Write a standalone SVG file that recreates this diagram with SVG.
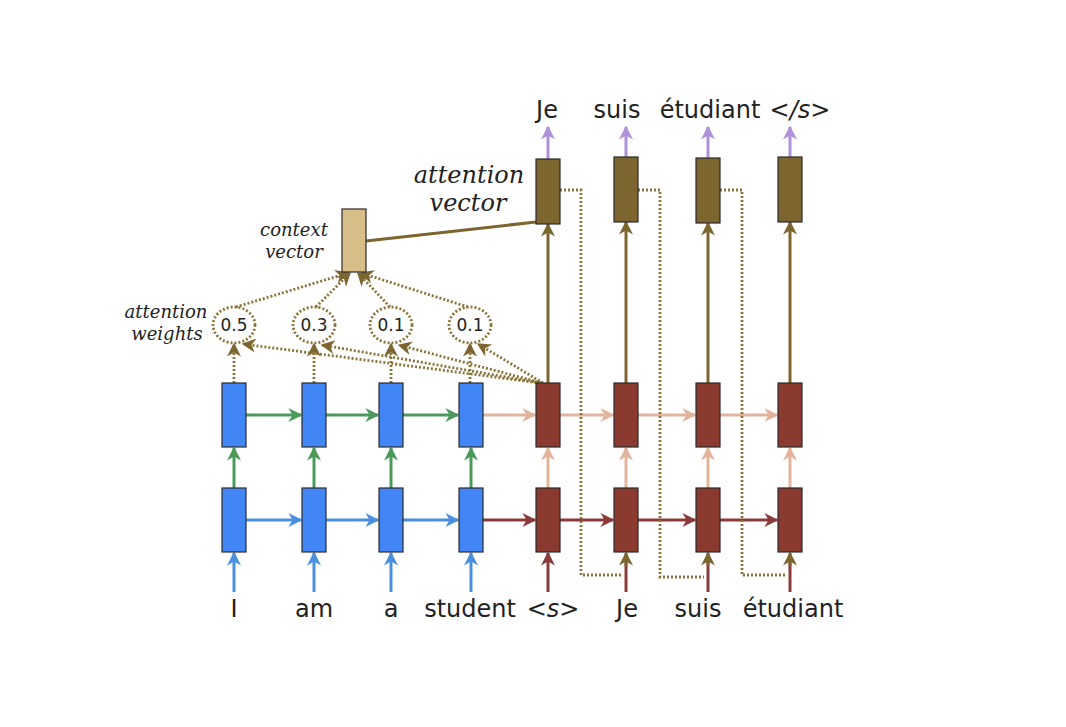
<svg xmlns="http://www.w3.org/2000/svg" width="1066" height="727" viewBox="0 0 1066 727">
<style>
.lbl{font-family:"DejaVu Sans",sans-serif;font-size:24px;fill:#222;text-anchor:middle}
.it{font-family:"DejaVu Serif",serif;font-style:italic;fill:#222;text-anchor:middle}
.num{font-family:"DejaVu Sans",sans-serif;font-size:17px;fill:#222;text-anchor:middle}
.enc{fill:#4285F4;stroke:#2a2a2a;stroke-width:1.2}
.dec{fill:#8B3A30;stroke:#2a2a2a;stroke-width:1.2}
.att{fill:#7D6530;stroke:#2a2a2a;stroke-width:1.2}
.ctx{fill:#D8BE88;stroke:#2a2a2a;stroke-width:1.2}
.a{fill:none;stroke-width:3}
.g{stroke:#4C9A5A;marker-end:url(#mg)}
.b{stroke:#4A8FE0;marker-end:url(#mb)}
.r{stroke:#8B3A3A;marker-end:url(#mr)}
.p{stroke:#E2B49C;marker-end:url(#mp)}
.o{stroke:#7D6530;marker-end:url(#mo)}
.v{stroke:#B08FDB;marker-end:url(#mv)}
.d{fill:none;stroke:#8A7538;stroke-width:2.8;stroke-dasharray:2 2}
.da{marker-end:url(#mo)}
</style>
<defs>
<marker id="mg" viewBox="0 0 10 10" refX="9" refY="5" markerWidth="14" markerHeight="14" markerUnits="userSpaceOnUse" orient="auto"><path d="M0,0 L10,5 L0,10 L3,5 z" fill="#4C9A5A"/></marker>
<marker id="mb" viewBox="0 0 10 10" refX="9" refY="5" markerWidth="14" markerHeight="14" markerUnits="userSpaceOnUse" orient="auto"><path d="M0,0 L10,5 L0,10 L3,5 z" fill="#4A8FE0"/></marker>
<marker id="mr" viewBox="0 0 10 10" refX="9" refY="5" markerWidth="14" markerHeight="14" markerUnits="userSpaceOnUse" orient="auto"><path d="M0,0 L10,5 L0,10 L3,5 z" fill="#8B3A3A"/></marker>
<marker id="mp" viewBox="0 0 10 10" refX="9" refY="5" markerWidth="14" markerHeight="14" markerUnits="userSpaceOnUse" orient="auto"><path d="M0,0 L10,5 L0,10 L3,5 z" fill="#E2B49C"/></marker>
<marker id="mo" viewBox="0 0 10 10" refX="9" refY="5" markerWidth="14" markerHeight="14" markerUnits="userSpaceOnUse" orient="auto"><path d="M0,0 L10,5 L0,10 L3,5 z" fill="#7D6530"/></marker>
<marker id="mv" viewBox="0 0 10 10" refX="9" refY="5" markerWidth="14" markerHeight="14" markerUnits="userSpaceOnUse" orient="auto"><path d="M0,0 L10,5 L0,10 L3,5 z" fill="#B08FDB"/></marker>
</defs>
<rect width="1066" height="727" fill="#fff"/>

<g id="connectors">
<line class="a b" x1="234" y1="592" x2="234" y2="553"/>
<line class="a b" x1="314" y1="592" x2="314" y2="553"/>
<line class="a b" x1="391" y1="592" x2="391" y2="553"/>
<line class="a b" x1="471" y1="592" x2="471" y2="553"/>
<line class="a r" x1="548" y1="592" x2="548" y2="553"/>
<line class="a" stroke="#8B3A3A" x1="626" y1="592" x2="626" y2="560"/>
<line class="a" stroke="#8B3A3A" x1="708" y1="592" x2="708" y2="560"/>
<line class="a" stroke="#8B3A3A" x1="790" y1="592" x2="790" y2="560"/>
<line class="a o" x1="626" y1="566" x2="626" y2="553"/>
<line class="a o" x1="708" y1="566" x2="708" y2="553"/>
<line class="a o" x1="790" y1="566" x2="790" y2="553"/>
<line class="a b" x1="246" y1="520" x2="301" y2="520"/>
<line class="a b" x1="326" y1="520" x2="378" y2="520"/>
<line class="a b" x1="403" y1="520" x2="458" y2="520"/>
<line class="a r" x1="483" y1="520" x2="535" y2="520"/>
<line class="a r" x1="560" y1="520" x2="613" y2="520"/>
<line class="a r" x1="638" y1="520" x2="695" y2="520"/>
<line class="a r" x1="720" y1="520" x2="777" y2="520"/>
<line class="a g" x1="234" y1="488" x2="234" y2="448"/>
<line class="a g" x1="314" y1="488" x2="314" y2="448"/>
<line class="a g" x1="391" y1="488" x2="391" y2="448"/>
<line class="a g" x1="471" y1="488" x2="471" y2="448"/>
<line class="a p" x1="548" y1="488" x2="548" y2="448"/>
<line class="a p" x1="626" y1="488" x2="626" y2="448"/>
<line class="a p" x1="708" y1="488" x2="708" y2="448"/>
<line class="a p" x1="790" y1="488" x2="790" y2="448"/>
<line class="a g" x1="246" y1="415" x2="301" y2="415"/>
<line class="a g" x1="326" y1="415" x2="378" y2="415"/>
<line class="a g" x1="403" y1="415" x2="458" y2="415"/>
<line class="a p" x1="483" y1="415" x2="535" y2="415"/>
<line class="a p" x1="560" y1="415" x2="613" y2="415"/>
<line class="a p" x1="638" y1="415" x2="695" y2="415"/>
<line class="a p" x1="720" y1="415" x2="777" y2="415"/>
<line class="a o" x1="548" y1="383" x2="548" y2="224"/>
<line class="a o" x1="626" y1="383" x2="626" y2="222"/>
<line class="a o" x1="708" y1="383" x2="708" y2="223"/>
<line class="a o" x1="790" y1="383" x2="790" y2="222"/>
<line class="a v" x1="548" y1="159" x2="548" y2="127"/>
<line class="a v" x1="626" y1="157" x2="626" y2="127"/>
<line class="a v" x1="708" y1="159" x2="708" y2="127"/>
<line class="a v" x1="790" y1="157" x2="790" y2="127"/>
<line class="a" stroke="#7D6530" x1="366" y1="241" x2="536" y2="222"/>
<polyline class="d" points="560,190 581,190 581,575 622,575"/>
<polyline class="d" points="638,190 660,190 660,577 704,577"/>
<polyline class="d" points="720,190 742,190 742,575 786,575"/>
<line class="d da" x1="234" y1="383" x2="234" y2="344"/>
<line class="d da" x1="314" y1="383" x2="314" y2="344"/>
<line class="d da" x1="391" y1="383" x2="391" y2="344"/>
<line class="d da" x1="470" y1="383" x2="470" y2="344"/>
<line class="d da" x1="540" y1="383" x2="243" y2="344"/>
<line class="d da" x1="541" y1="383" x2="322" y2="345"/>
<line class="d da" x1="542" y1="383" x2="399" y2="345"/>
<line class="d da" x1="543" y1="383" x2="478" y2="344"/>
<line class="d da" x1="236" y1="307" x2="348" y2="273"/>
<line class="d da" x1="316" y1="307" x2="350" y2="273"/>
<line class="d da" x1="390" y1="307" x2="358" y2="273"/>
<line class="d da" x1="468" y1="307" x2="361" y2="273"/>
</g>

<g id="enc1"><rect class="enc" x="222" y="383" width="24" height="64"/><rect class="enc" x="222" y="488" width="24" height="64"/></g>
<g id="enc2"><rect class="enc" x="302" y="383" width="24" height="64"/><rect class="enc" x="302" y="488" width="24" height="64"/></g>
<g id="enc3"><rect class="enc" x="379" y="383" width="24" height="64"/><rect class="enc" x="379" y="488" width="24" height="64"/></g>
<g id="enc4"><rect class="enc" x="459" y="383" width="24" height="64"/><rect class="enc" x="459" y="488" width="24" height="64"/></g>
<g id="dec1"><rect class="dec" x="536" y="383" width="24" height="64"/><rect class="dec" x="536" y="488" width="24" height="64"/></g>
<g id="dec2"><rect class="dec" x="614" y="383" width="24" height="64"/><rect class="dec" x="614" y="488" width="24" height="64"/></g>
<g id="dec3"><rect class="dec" x="696" y="383" width="24" height="64"/><rect class="dec" x="696" y="488" width="24" height="64"/></g>
<g id="dec4"><rect class="dec" x="778" y="383" width="24" height="64"/><rect class="dec" x="778" y="488" width="24" height="64"/></g>

<g id="att1"><rect class="att" x="536" y="159" width="24" height="65"/></g>
<g id="att2"><rect class="att" x="614" y="157" width="24" height="65"/></g>
<g id="att3"><rect class="att" x="696" y="158" width="24" height="65"/></g>
<g id="att4"><rect class="att" x="778" y="157" width="24" height="65"/></g>

<g id="context"><rect class="ctx" x="342" y="209" width="24" height="63"/>
<text class="it" font-size="18" x="294" y="236">context</text>
<text class="it" font-size="18" x="294" y="258">vector</text></g>

<g id="attlabel">
<text class="it" font-size="24" x="469" y="183">attention</text>
<text class="it" font-size="24" x="468" y="211">vector</text></g>

<g id="weightslabel">
<text class="it" font-size="18" x="166" y="318">attention</text>
<text class="it" font-size="18" x="167" y="340">weights</text></g>

<g id="w1"><ellipse class="d" cx="234" cy="325" rx="21" ry="18"/><text class="num" x="234" y="331">0.5</text></g>
<g id="w2"><ellipse class="d" cx="314" cy="325" rx="21" ry="18"/><text class="num" x="314" y="331">0.3</text></g>
<g id="w3"><ellipse class="d" cx="391" cy="325" rx="21" ry="18"/><text class="num" x="391" y="331">0.1</text></g>
<g id="w4"><ellipse class="d" cx="470" cy="325" rx="21" ry="18"/><text class="num" x="470" y="331">0.1</text></g>

<g id="outputs">
<text class="lbl" x="547" y="118">Je</text>
<text class="lbl" x="617" y="118">suis</text>
<text class="lbl" x="710" y="118">étudiant</text>
<text class="lbl" x="800" y="118">&lt;<tspan font-style="italic">/s</tspan>&gt;</text>
</g>
<g id="inputs">
<text class="lbl" x="234" y="617">I</text>
<text class="lbl" x="314" y="617">am</text>
<text class="lbl" x="391" y="617">a</text>
<text class="lbl" x="470" y="617">student</text>
<text class="lbl" x="553" y="617">&lt;<tspan font-style="italic">s</tspan>&gt;</text>
<text class="lbl" x="627" y="617">Je</text>
<text class="lbl" x="698" y="617">suis</text>
<text class="lbl" x="793" y="617">étudiant</text>
</g>
</svg>
